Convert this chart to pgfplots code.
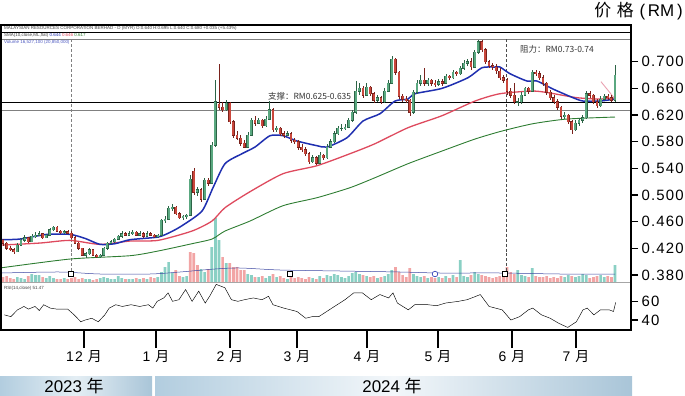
\documentclass[border=0pt]{standalone}
\usepackage{fontspec}
\setmainfont{Liberation Sans}
\newfontfamily\cjk{Noto Sans CJK SC}
\newfontfamily\tickfont{Liberation Sans}[LetterSpace=8]
\usepackage{pgfplots}
\usepackage{pgfplotstable}
\pgfplotsset{compat=1.18}
\definecolor{upbody}{HTML}{5AA880}
\definecolor{upedge}{HTML}{2C6446}
\definecolor{dnbody}{HTML}{C9473C}
\definecolor{dnedge}{HTML}{7A221C}
\definecolor{volup}{HTML}{8AD0C4}
\definecolor{voldn}{HTML}{F2A5A5}
\definecolor{maA}{HTML}{1F2FB0}
\definecolor{maB}{HTML}{DE4A5E}
\definecolor{maC}{HTML}{2E7D32}
\definecolor{pinkline}{HTML}{E9A0B0}
\definecolor{bandA}{HTML}{B2CDDF}
\definecolor{bandB}{HTML}{A9C5D8}
\definecolor{bandM}{HTML}{E4EEF4}
\definecolor{bandN}{HTML}{F3F7FA}

\pgfplotstableread{
i o h l c v s
0 0.432 0.434 0.424 0.428 5 0
1 0.428 0.430 0.418 0.420 6 0
2 0.420 0.424 0.416 0.418 4 0
3 0.418 0.420 0.412 0.415 3 0
4 0.415 0.428 0.414 0.425 5 1
5 0.425 0.436 0.424 0.432 4 1
6 0.432 0.440 0.430 0.436 3 1
7 0.436 0.437 0.428 0.430 6 0
8 0.430 0.442 0.429 0.438 8 1
9 0.438 0.444 0.436 0.440 7 1
10 0.440 0.446 0.438 0.442 7 1
11 0.442 0.443 0.434 0.436 5 0
12 0.436 0.442 0.435 0.440 4 1
13 0.440 0.450 0.439 0.448 6 1
14 0.448 0.454 0.446 0.452 4 1
15 0.452 0.453 0.444 0.446 3 0
16 0.446 0.448 0.442 0.444 3 0
17 0.444 0.447 0.442 0.445 4 1
18 0.445 0.448 0.441 0.443 3 0
19 0.443 0.446 0.434 0.436 4 0
20 0.436 0.438 0.426 0.428 5 0
21 0.428 0.430 0.418 0.420 3 0
22 0.420 0.421 0.408 0.410 4 0
23 0.410 0.414 0.406 0.412 3 1
24 0.412 0.420 0.410 0.418 3 1
25 0.418 0.419 0.408 0.410 2 0
26 0.410 0.412 0.405 0.408 3 0
27 0.408 0.412 0.406 0.410 4 1
28 0.410 0.422 0.409 0.420 5 1
29 0.420 0.430 0.418 0.428 4 1
30 0.428 0.432 0.426 0.430 3 1
31 0.430 0.436 0.428 0.434 3 1
32 0.434 0.440 0.432 0.438 6 1
33 0.438 0.446 0.436 0.442 4 1
34 0.442 0.444 0.438 0.440 3 0
35 0.440 0.446 0.439 0.442 3 1
36 0.442 0.448 0.440 0.444 3 1
37 0.444 0.446 0.438 0.440 4 0
38 0.440 0.446 0.439 0.442 3 1
39 0.442 0.444 0.436 0.438 4 0
40 0.438 0.446 0.437 0.442 3 1
41 0.442 0.445 0.438 0.440 5 0
42 0.440 0.442 0.436 0.438 4 0
43 0.438 0.442 0.436 0.440 5 1
44 0.440 0.464 0.439 0.462 10 1
45 0.462 0.468 0.458 0.464 15 1
46 0.464 0.484 0.462 0.480 20 1
47 0.480 0.486 0.476 0.482 9 1
48 0.482 0.484 0.470 0.472 12 0
49 0.472 0.474 0.464 0.466 6 0
50 0.466 0.470 0.462 0.468 5 1
51 0.468 0.472 0.464 0.470 6 1
52 0.470 0.530 0.468 0.524 30 0
53 0.536 0.540 0.500 0.504 29 0
54 0.504 0.512 0.498 0.508 17 0
55 0.508 0.510 0.490 0.494 13 1
56 0.494 0.526 0.492 0.522 10 1
57 0.522 0.526 0.514 0.518 13 0
58 0.518 0.580 0.516 0.575 35 1
59 0.575 0.672 0.572 0.640 64 1
60 0.636 0.697 0.628 0.632 42 1
61 0.632 0.640 0.624 0.628 25 0
62 0.628 0.642 0.626 0.638 19 1
63 0.638 0.640 0.606 0.610 19 0
64 0.610 0.612 0.586 0.590 15 0
65 0.590 0.596 0.582 0.585 15 0
66 0.585 0.590 0.574 0.578 12 0
67 0.578 0.582 0.570 0.572 12 0
68 0.572 0.594 0.570 0.590 8 1
69 0.590 0.616 0.588 0.612 7 1
70 0.612 0.618 0.604 0.608 5 0
71 0.608 0.616 0.606 0.612 5 1
72 0.612 0.614 0.600 0.604 6 0
73 0.604 0.618 0.602 0.614 4 1
74 0.614 0.641 0.612 0.628 6 1
75 0.628 0.630 0.594 0.598 8 0
76 0.598 0.604 0.594 0.600 5 1
77 0.600 0.602 0.588 0.592 6 0
78 0.592 0.596 0.586 0.590 4 0
79 0.590 0.596 0.588 0.592 3 1
80 0.592 0.594 0.578 0.582 5 0
81 0.582 0.586 0.576 0.580 4 0
82 0.580 0.582 0.568 0.572 5 0
83 0.572 0.576 0.564 0.568 4 0
84 0.568 0.572 0.558 0.562 3 0
85 0.562 0.564 0.546 0.550 5 0
86 0.550 0.560 0.548 0.556 4 1
87 0.556 0.558 0.545 0.548 3 0
88 0.548 0.564 0.546 0.560 6 1
89 0.560 0.562 0.552 0.556 4 0
90 0.556 0.576 0.554 0.572 7 1
91 0.572 0.584 0.570 0.580 6 1
92 0.580 0.596 0.578 0.592 8 1
93 0.592 0.604 0.590 0.600 7 1
94 0.600 0.606 0.596 0.600 5 1
95 0.600 0.606 0.598 0.602 4 1
96 0.602 0.616 0.600 0.612 6 1
97 0.612 0.628 0.610 0.624 9 1
98 0.624 0.671 0.622 0.656 10 1
99 0.656 0.668 0.650 0.660 8 1
100 0.660 0.664 0.646 0.650 7 0
101 0.650 0.668 0.648 0.662 6 1
102 0.662 0.664 0.648 0.652 5 0
103 0.652 0.654 0.638 0.642 6 0
104 0.642 0.650 0.640 0.646 4 1
105 0.646 0.648 0.636 0.640 5 0
106 0.640 0.660 0.638 0.656 6 1
107 0.656 0.672 0.654 0.668 8 1
108 0.668 0.708 0.666 0.704 12 1
109 0.704 0.706 0.680 0.684 15 0
110 0.684 0.686 0.644 0.648 10 0
111 0.648 0.652 0.640 0.644 7 0
112 0.644 0.648 0.638 0.642 5 0
113 0.642 0.644 0.619 0.624 14 0
114 0.624 0.658 0.622 0.654 8 1
115 0.654 0.672 0.652 0.668 6 1
116 0.668 0.680 0.664 0.672 5 1
117 0.672 0.691 0.664 0.668 6 0
118 0.668 0.676 0.664 0.672 4 1
119 0.672 0.674 0.664 0.668 5 0
120 0.668 0.672 0.662 0.666 4 0
121 0.666 0.674 0.664 0.670 5 1
122 0.670 0.674 0.664 0.668 4 0
123 0.668 0.682 0.666 0.678 6 1
124 0.678 0.680 0.672 0.676 4 0
125 0.676 0.688 0.674 0.684 7 1
126 0.684 0.686 0.678 0.682 5 0
127 0.682 0.694 0.680 0.690 22 1
128 0.690 0.702 0.688 0.698 6 1
129 0.698 0.704 0.694 0.700 5 1
130 0.700 0.706 0.688 0.692 7 0
131 0.692 0.718 0.690 0.714 10 1
132 0.714 0.733 0.712 0.730 8 1
133 0.730 0.732 0.714 0.718 7 0
134 0.718 0.720 0.696 0.700 6 0
135 0.700 0.702 0.690 0.694 5 0
136 0.694 0.698 0.688 0.692 4 0
137 0.692 0.696 0.682 0.686 5 0
138 0.686 0.690 0.672 0.676 6 0
139 0.676 0.680 0.668 0.672 5 0
140 0.672 0.676 0.650 0.656 15 0
141 0.656 0.660 0.646 0.650 10 0
142 0.650 0.668 0.636 0.640 8 0
143 0.640 0.646 0.634 0.640 12 1
144 0.640 0.654 0.636 0.650 7 1
145 0.650 0.662 0.648 0.660 6 1
146 0.660 0.662 0.652 0.656 5 0
147 0.656 0.688 0.654 0.684 14 1
148 0.684 0.688 0.678 0.682 6 0
149 0.682 0.686 0.672 0.676 5 0
150 0.676 0.680 0.664 0.668 5 0
151 0.668 0.670 0.650 0.654 6 0
152 0.654 0.658 0.642 0.646 4 0
153 0.646 0.650 0.636 0.640 5 0
154 0.640 0.644 0.628 0.632 4 0
155 0.632 0.634 0.614 0.618 6 0
156 0.618 0.624 0.614 0.620 5 1
157 0.620 0.622 0.606 0.610 7 1
158 0.610 0.612 0.592 0.598 6 0
159 0.598 0.612 0.596 0.608 5 1
160 0.608 0.616 0.604 0.612 6 1
161 0.612 0.620 0.608 0.616 8 1
162 0.616 0.656 0.614 0.652 7 1
163 0.652 0.656 0.646 0.650 4 0
164 0.650 0.652 0.636 0.640 5 0
165 0.640 0.644 0.630 0.634 6 0
166 0.634 0.648 0.632 0.644 7 1
167 0.644 0.652 0.642 0.648 5 1
168 0.648 0.652 0.642 0.646 6 0
169 0.646 0.650 0.640 0.642 5 0
170 0.642 0.695 0.640 0.680 17 1
}\candles

\pgfplotsset{
  candle/.style n args={3}{draw=none, mark=none, forget plot,
    restrict expr to domain={\thisrow{c}-\thisrow{o}}{#1},
    error bars/.cd, y dir=both, y explicit, error mark=none,
    error bar style={draw=#2, line width=#3, solid}},
}

\begin{document}
\begin{tikzpicture}
\path[use as bounding box] (0,0) rectangle (685bp,-396bp);

% ---------- volume (overlay in price pane) ----------
\begin{axis}[at={(1bp,-282bp)}, anchor=south west, scale only axis,
  width=630bp, height=257bp, xmin=1, xmax=631, ymin=0, ymax=257, hide axis]
\addplot[ybar, bar width=2.7, bar shift=0pt, fill=volup, draw=none,
  restrict expr to domain={\thisrow{s}}{0.5:1.5}]
  table[x expr=3+3.6*\thisrow{i}, y=v] {\candles};
\addplot[ybar, bar width=2.7, bar shift=0pt, fill=voldn, draw=none,
  restrict expr to domain={\thisrow{s}}{-0.5:0.5}]
  table[x expr=3+3.6*\thisrow{i}, y=v] {\candles};
\addplot[maA!70!gray, line width=0.5bp, smooth] coordinates {
(2,9) (60,10) (100,8) (150,8) (180,10) (215,13) (240,14) (280,12) (340,11)
(400,10) (440,9) (500,9) (560,8) (615,8)};
\addplot[only marks, mark=square*, mark size=2.6bp, mark options={fill=white, draw=black, line width=0.5bp}]
  coordinates {(71,8) (290,8) (505,8)};
\addplot[only marks, mark=*, mark size=2.8bp, mark options={fill=white, draw=maA, line width=0.6bp}]
  coordinates {(435,8)};
\end{axis}

% ---------- price pane ----------
\begin{axis}[at={(1bp,-282bp)}, anchor=south west, scale only axis,
  width=630bp, height=257bp, xmin=1, xmax=631, ymin=0.36956, ymax=0.75505,
  axis line style={draw=none}, xtick=\empty,
  ytick={0.38,0.42,0.46,0.50,0.54,0.58,0.62,0.66,0.70}, ytick pos=right,
  tick align=outside, major tick length=7bp,
  every tick/.style={black, line width=1.5bp},
  /pgf/number format/assume math mode=true,
  yticklabel style={font=\tickfont\fontsize{15}{15}\selectfont,
    /pgf/number format/.cd, fixed, fixed zerofill, precision=3},
  ]
% support / resistance lines
\addplot[black, line width=1.1bp] coordinates {(1,0.7435) (631,0.7435)};
\addplot[gray, line width=0.7bp] coordinates {(1,0.7336) (631,0.7336)};
\addplot[black, line width=1.1bp] coordinates {(1,0.6385) (631,0.6385)};
\addplot[gray, line width=0.7bp] coordinates {(1,0.6276) (631,0.6276)};
% event dashed lines
\addplot[gray, densely dashed, line width=0.5bp] coordinates {(71,0.7336) (71,0.385)};
\addplot[black!70, densely dashed, line width=0.5bp] coordinates {(506,0.7336) (506,0.385)};
% moving averages
\addplot[maC, line width=0.9bp, smooth, tension=0.4] coordinates {
(2,0.391) (70,0.404) (130,0.409) (158,0.416) (192,0.427) (212,0.434) (225,0.446)
(250,0.461) (283,0.484) (317,0.496) (350,0.511) (375,0.526) (408,0.547) (442,0.566)
(475,0.584) (502,0.596) (533,0.607) (567,0.614) (615,0.617)};
\addplot[maB, line width=1.3bp, smooth, tension=0.4] coordinates {
(2,0.425) (40,0.428) (70,0.432) (100,0.426) (130,0.431) (158,0.432) (192,0.446)
(212,0.461) (225,0.481) (250,0.505) (283,0.532) (317,0.544) (350,0.562) (375,0.577)
(408,0.601) (442,0.619) (475,0.641) (500,0.652) (533,0.656) (550,0.653) (577,0.646)
(600,0.644) (615,0.646)};
\addplot[maA, line width=1.5bp, smooth, tension=0.4] coordinates {
(2,0.433) (20,0.434) (47,0.441) (70,0.441) (85,0.435) (100,0.426) (115,0.427)
(130,0.433) (158,0.437) (170,0.444) (182,0.454) (202,0.476) (213,0.511) (225,0.547)
(242,0.562) (255,0.572) (270,0.589) (283,0.589) (297,0.581) (317,0.574) (327,0.572)
(347,0.586) (363,0.611) (380,0.622) (395,0.641) (408,0.644) (415,0.652) (442,0.660)
(468,0.676) (482,0.691) (495,0.692) (500,0.692) (510,0.682) (527,0.671) (537,0.671)
(553,0.659) (573,0.646) (583,0.641) (600,0.641) (615,0.644)};
% pink trend line
\addplot[pinkline, line width=0.9bp] coordinates {(601,0.670) (614,0.646)};
% candle wicks
\addplot[candle={0:1}{upedge}{0.6bp}]
  table[x expr=3+3.6*\thisrow{i}, y expr=(\thisrow{h}+\thisrow{l})/2,
        y error expr=(\thisrow{h}-\thisrow{l})/2] {\candles};
\addplot[candle={-1:-0.0001}{dnedge}{0.6bp}]
  table[x expr=3+3.6*\thisrow{i}, y expr=(\thisrow{h}+\thisrow{l})/2,
        y error expr=(\thisrow{h}-\thisrow{l})/2] {\candles};
% candle bodies: edge then fill
\addplot[candle={0:1}{upedge}{2.8bp}]
  table[x expr=3+3.6*\thisrow{i}, y expr=(\thisrow{o}+\thisrow{c})/2,
        y error expr=abs(\thisrow{c}-\thisrow{o})/2+0.0007] {\candles};
\addplot[candle={0:1}{upbody}{1.9bp}]
  table[x expr=3+3.6*\thisrow{i}, y expr=(\thisrow{o}+\thisrow{c})/2,
        y error expr=abs(\thisrow{c}-\thisrow{o})/2] {\candles};
\addplot[candle={-1:-0.0001}{dnedge}{2.8bp}]
  table[x expr=3+3.6*\thisrow{i}, y expr=(\thisrow{o}+\thisrow{c})/2,
        y error expr=abs(\thisrow{c}-\thisrow{o})/2+0.0007] {\candles};
\addplot[candle={-1:-0.0001}{dnbody}{1.9bp}]
  table[x expr=3+3.6*\thisrow{i}, y expr=(\thisrow{o}+\thisrow{c})/2,
        y error expr=abs(\thisrow{c}-\thisrow{o})/2] {\candles};
% annotations
\node[anchor=south west, inner sep=0pt, font=\cjk\fontsize{8.5}{9}\selectfont, black!80]
  at (axis cs:268,0.6415) {支撑：RM0.625-0.635};
\node[anchor=west, inner sep=0pt, font=\cjk\fontsize{8.5}{9}\selectfont, black!80]
  at (axis cs:520,0.7185) {阻力：RM0.73-0.74};
\end{axis}

% ---------- RSI pane ----------
\begin{axis}[at={(1bp,-330bp)}, anchor=south west, scale only axis,
  width=630bp, height=48bp, xmin=1, xmax=631, ymin=29.1, ymax=81.5,
  axis line style={draw=none}, xtick=\empty,
  ytick={40,60}, ytick pos=right, tick align=outside, major tick length=7bp,
  every tick/.style={black, line width=1.5bp},
  /pgf/number format/assume math mode=true,
  yticklabel style={font=\tickfont\fontsize{15}{15}\selectfont},
  ]
\addplot[black, line width=0.45bp] coordinates {
(4.4,45.6) (10.9,43.7) (17.5,51.1) (24,54.8) (28.4,51.9) (35,54.8) (39.3,50.4)
(43.7,56.7) (50.2,53.0) (56.8,51.9) (67.7,51.9) (74.2,45.6) (80.8,38.1) (85.2,40)
(91.7,41.9) (98.3,38.1) (104.8,45.6) (109.2,53.0) (115.7,56.7) (122.3,54.8) (131,56.7)
(139.7,54.8) (148.5,56.7) (152.8,53.0) (157.2,60.4) (163.8,64.1) (168.1,69.6) (172.5,60.4)
(179,62.2) (185.6,73.3) (192.1,60.4) (198.7,71.5) (205.2,58.5) (209.6,65.9) (216.2,78.9)
(224.9,75.2) (231.4,62.2) (238,60.4) (244.5,62.2) (253.3,64.1) (262,62.2) (268.6,65.9)
(272.9,56.7) (283.8,53.0) (297,49.3) (305.7,41.9) (312.2,43.7) (318.8,43.7) (331.9,53.0)
(345,62.2) (353.7,69.6) (362.4,69.6) (371.2,62.2) (379.9,67.8) (388.6,64.1) (393,69.6)
(397.4,58.5) (408.3,51.1) (414.8,56.7) (428,56.7) (436.7,55.6) (445.4,58.5) (458.5,60.4)
(467.2,62.2) (476,65.9) (480.3,67.8) (489.1,54.8) (502.2,51.1) (510.9,40) (519.7,43.7)
(528.4,51.1) (532.8,53.0) (541.5,45.6) (550.2,41.9) (559,36.3) (567.7,31.9) (576.4,38.1)
(583,51.1) (587.3,53.0) (593.9,45.6) (600.4,51.1) (609.2,51.1) (613.5,49.3) (615.7,59.3)};
\end{axis}

% ---------- month axis (ticks below the frame) ----------
\begin{axis}[at={(1bp,-330bp)}, anchor=south west, scale only axis,
  width=630bp, height=48bp, xmin=1, xmax=631, ymin=0, ymax=1,
  axis line style={draw=none}, ytick=\empty,
  xtick pos=bottom, tick align=outside, major tick length=18bp,
  xtick={84,156,230,297,367,438,512,576},
  xticklabels={12 {\cjk 月}, 1 {\cjk 月}, 2 {\cjk 月}, 3 {\cjk 月}, 4 {\cjk 月}, 5 {\cjk 月}, 6 {\cjk 月}, 7 {\cjk 月}},
  every tick/.style={black, line width=2bp},
  xticklabel style={font=\tickfont\fontsize{14}{14}\selectfont, yshift=1bp},
  ]
\end{axis}

% ---------- frame and decorations ----------
\draw[gray!70, line width=0.4bp] (1bp,-282bp) -- (631bp,-282bp);
\draw[line width=1.2bp] (1bp,-25bp) -- (1bp,-330bp);
\draw[line width=2bp] (0bp,-25bp) -- (632bp,-25bp);
\draw[line width=2bp] (631bp,-24bp) -- (631bp,-331bp);
\draw[line width=2bp] (0bp,-330bp) -- (632bp,-330bp);

\node[anchor=west, inner sep=0pt, font=\fontsize{4.5}{5}\selectfont, black!75] at (4bp,-28.8bp)
  {MALAYSIAN RESOURCES CORPORATION BERHAD - D (MYR)  O:0.640  H:0.695  L:0.640  C:0.680  +0.035 (+5.43\%)};
\node[anchor=west, inner sep=0pt, font=\fontsize{4.5}{5}\selectfont, black!75] at (4bp,-35.8bp)
  {SMA(10,close,ML,flat) \textcolor{maA}{0.644} \textcolor{maB}{0.646} \textcolor{maC}{0.617}};
\node[anchor=west, inner sep=0pt, font=\fontsize{4.5}{5}\selectfont, maA!80] at (4bp,-42.5bp)
  {Volume 16,527,100 (20,850,000)};
\node[anchor=west, inner sep=0pt, font=\fontsize{4.5}{5}\selectfont, black!75] at (4bp,-288bp)
  {RSI(14,close) 51.47};

\node[anchor=east, inner sep=0pt, font=\fontsize{17}{17}\selectfont] at (683bp,-11bp)
  {{\cjk 价}\,\,{\cjk 格}\,\,(\,RM\,)};

% year bands
\shade[left color=bandA, right color=bandB, middle color=bandM] (0bp,-376bp) rectangle (152bp,-396bp);
\shade[left color=bandA, right color=bandB, middle color=bandN] (155bp,-376bp) rectangle (632bp,-396bp);
\node[font=\fontsize{17}{17}\selectfont, inner sep=0pt] at (74bp,-386.5bp) {2023 {\cjk 年}};
\node[font=\fontsize{17}{17}\selectfont, inner sep=0pt] at (392bp,-386.5bp) {2024 {\cjk 年}};
\end{tikzpicture}
\end{document}
